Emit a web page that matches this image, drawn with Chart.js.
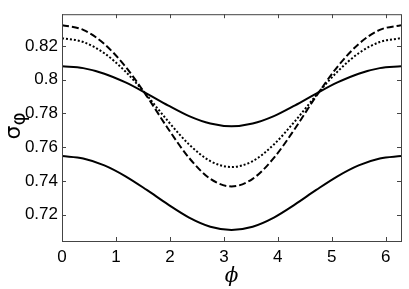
<!DOCTYPE html>
<html>
<head>
<meta charset="utf-8">
<script src="https://cdn.jsdelivr.net/npm/chart.js@4/dist/chart.umd.min.js"></script>
<style>
  html, body { margin: 0; padding: 0; background: #fff; }
  #wrap { width: 409px; height: 289px; }
</style>
</head>
<body>
<div id="wrap"><canvas id="c" width="409" height="289"></canvas></div>
<script>
// phi sample points (k * pi / 8)
const phiValues = [0, 0.393, 0.785, 1.178, 1.571, 1.963, 2.356, 2.749, 3.142,
  3.534, 3.927, 4.320, 4.712, 5.105, 5.498, 5.890, 6.283];

const solidUpper = [0.8080, 0.8069, 0.8036, 0.7984, 0.7918, 0.7848, 0.7784, 0.7740, 0.7724,
  0.7740, 0.7784, 0.7848, 0.7918, 0.7984, 0.8036, 0.8069, 0.8080];
const dottedLine = [0.8247, 0.8224, 0.8157, 0.8048, 0.7908, 0.7755, 0.7616, 0.7517, 0.7482,
  0.7517, 0.7616, 0.7755, 0.7908, 0.8048, 0.8157, 0.8224, 0.8247];
const dashedLine = [0.8324, 0.8296, 0.8212, 0.8077, 0.7903, 0.7711, 0.7536, 0.7412, 0.7367,
  0.7412, 0.7536, 0.7711, 0.7903, 0.8077, 0.8212, 0.8296, 0.8324];
const solidLower = [0.7547, 0.7533, 0.7492, 0.7427, 0.7346, 0.7260, 0.7182, 0.7128, 0.7109,
  0.7128, 0.7182, 0.7260, 0.7346, 0.7427, 0.7492, 0.7533, 0.7547];

const xTicks = [0, 1, 2, 3, 4, 5, 6];
const yTicks = [0.72, 0.74, 0.76, 0.78, 0.80, 0.82];

const pts = arr => arr.map((v, i) => ({ x: phiValues[i], y: v }));
const tickFont = { family: 'Liberation Sans, Arial, sans-serif', size: 17 };

// box around plot with inward ticks on all four sides
const frame = {
  id: 'frame',
  afterDraw(chart) {
    const { ctx, chartArea: a, scales } = chart;
    ctx.save();
    ctx.strokeStyle = '#444';
    ctx.lineWidth = 1;
    ctx.strokeRect(a.left + 0.5, a.top + 0.5, a.right - a.left, a.bottom - a.top);
    ctx.beginPath();
    xTicks.forEach(t => {
      const px = Math.round(scales.x.getPixelForValue(t)) + 0.5;
      ctx.moveTo(px, a.bottom); ctx.lineTo(px, a.bottom - 4);
      ctx.moveTo(px, a.top); ctx.lineTo(px, a.top + 4);
    });
    yTicks.forEach(t => {
      const py = Math.round(scales.y.getPixelForValue(t)) + 0.5;
      ctx.moveTo(a.left, py); ctx.lineTo(a.left + 4, py);
      ctx.moveTo(a.right, py); ctx.lineTo(a.right - 4, py);
    });
    ctx.stroke();

    // y title: sigma with subscript phi
    ctx.fillStyle = '#000';
    ctx.translate(20, (a.top + a.bottom) / 2 + 6);
    ctx.rotate(-Math.PI / 2);
    ctx.font = '22px "DejaVu Sans", sans-serif';
    ctx.textBaseline = 'alphabetic';
    ctx.fillText('σ', -6, 0);
    ctx.font = '20px "DejaVu Sans", sans-serif';
    ctx.fillText('φ', 8, 5);
    ctx.restore();
  }
};

new Chart(document.getElementById('c'), {
  type: 'line',
  data: {
    datasets: [
      { data: pts(solidUpper), borderColor: '#000', borderWidth: 2 },
      { data: pts(dottedLine), borderColor: '#000', borderWidth: 2, borderDash: [2, 2] },
      { data: pts(dashedLine), borderColor: '#000', borderWidth: 2, borderDash: [7, 3] },
      { data: pts(solidLower), borderColor: '#000', borderWidth: 2 }
    ]
  },
  options: {
    responsive: false,
    animation: false,
    layout: { padding: { left: 0, right: 8, top: 7, bottom: 0 } },
    elements: { point: { radius: 0 }, line: { tension: 0.4, cubicInterpolationMode: 'monotone', fill: false } },
    plugins: { legend: { display: false }, tooltip: { enabled: false } },
    scales: {
      x: {
        type: 'linear', min: 0, max: 6.283,
        afterBuildTicks: s => { s.ticks = xTicks.map(v => ({ value: v })); },
        afterFit: s => { s.height = 48; },
        grid: { display: false, drawTicks: false },
        border: { display: false },
        ticks: { color: '#000', font: tickFont, padding: 6, maxRotation: 0 },
        title: { display: true, text: 'ϕ', color: '#000', padding: { top: 0, bottom: 0 },
          font: { family: 'DejaVu Serif, serif', size: 20, style: 'italic' } }
      },
      y: {
        type: 'linear', min: 0.7043, max: 0.8389,
        afterBuildTicks: s => { s.ticks = yTicks.map(v => ({ value: v })); },
        afterFit: s => { s.width = 62; },
        grid: { display: false, drawTicks: false },
        border: { display: false },
        ticks: { color: '#000', font: tickFont, padding: 4,
          callback: v => String(Math.round(v * 100) / 100) }
      }
    }
  },
  plugins: [frame]
});
</script>
</body>
</html>
